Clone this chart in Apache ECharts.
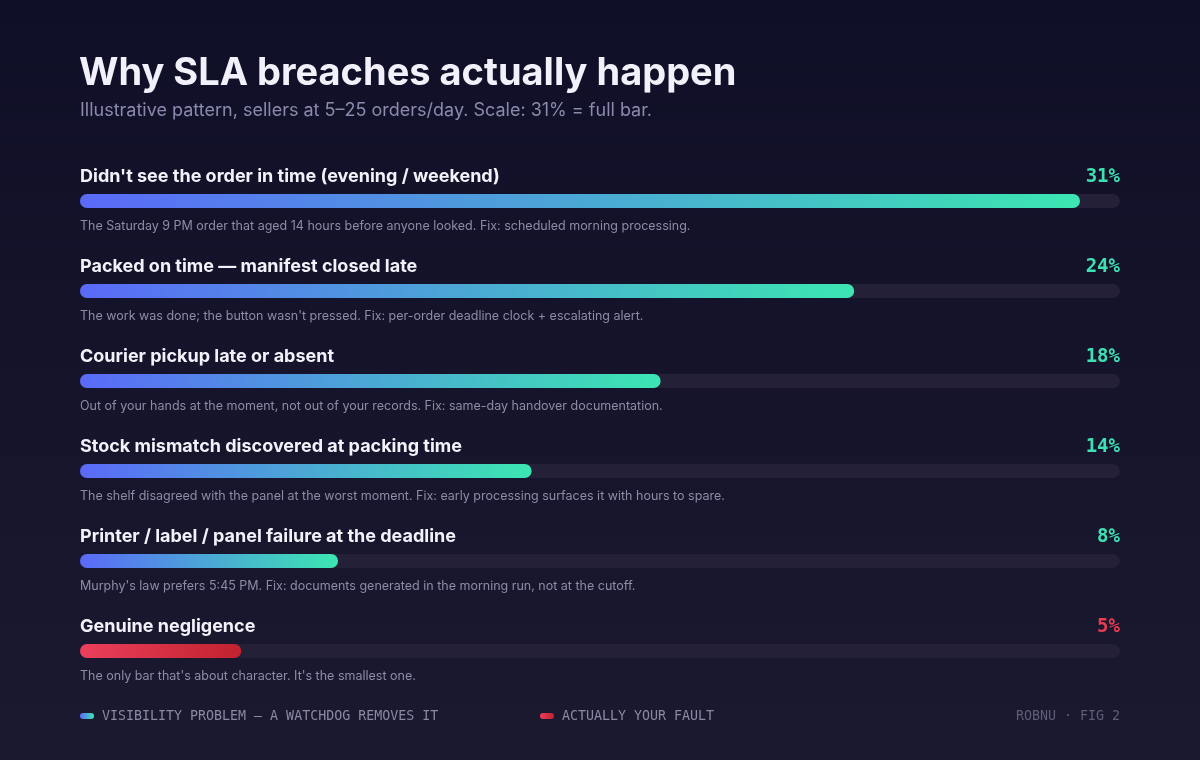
<!DOCTYPE html>
<html><head><meta charset="utf-8">
<script src="https://cdn.jsdelivr.net/npm/echarts@6/dist/echarts.min.js"></script>
<style>html,body{margin:0;padding:0;background:#141330;}#c{width:1200px;height:760px;}</style>
</head><body><div id="c"></div>
<script>
const categories = [
  "Didn't see the order in time (evening / weekend)",
  "Packed on time \u2014 manifest closed late",
  "Courier pickup late or absent",
  "Stock mismatch discovered at packing time",
  "Printer / label / panel failure at the deadline",
  "Genuine negligence"
];
const values = [31, 24, 18, 14, 8, 5];
const notes = [
  "The Saturday 9 PM order that aged 14 hours before anyone looked. Fix: scheduled morning processing.",
  "The work was done; the button wasn't pressed. Fix: per-order deadline clock + escalating alert.",
  "Out of your hands at the moment, not out of your records. Fix: same-day handover documentation.",
  "The shelf disagreed with the panel at the worst moment. Fix: early processing surfaces it with hours to spare.",
  "Murphy's law prefers 5:45 PM. Fix: documents generated in the morning run, not at the cutoff.",
  "The only bar that's about character. It's the smallest one."
];
const kinds = ["visibility", "visibility", "visibility", "visibility", "visibility", "fault"];
const fullScale = 31; // 31% = full bar
const legendLabels = ["VISIBILITY PROBLEM \u2014 A WATCHDOG REMOVES IT", "ACTUALLY YOUR FAULT"];
const titleText = "Why SLA breaches actually happen";
const subtitleText = "Illustrative pattern, sellers at 5\u201325 orders/day. Scale: 31% = full bar.";
const footText = "ROBNU \u00b7 FIG 2";

const chart = echarts.init(document.getElementById('c'), null, {renderer: 'canvas'});
const G = echarts.graphic;
const blueTeal = new G.LinearGradient(0, 0, 1, 0, [{offset: 0, color: '#5a6af8'}, {offset: 1, color: '#3ce6b2'}]);
const redGrad = new G.LinearGradient(0, 0, 1, 0, [{offset: 0, color: '#ec3f5c'}, {offset: 1, color: '#c0222e'}]);
const sans = 'Inter, "Noto Sans", sans-serif';
const mono = '"DejaVu Sans Mono", "Liberation Mono", monospace';

const option = {
  animation: false,
  backgroundColor: new G.LinearGradient(0, 0, 0, 1, [{offset: 0, color: '#0f0f27'}, {offset: 1, color: '#1b1930'}]),
  grid: {left: 80, right: 80, top: 156, height: 540},
  xAxis: {type: 'value', min: 0, max: fullScale * 1040 / 1000, show: false},
  yAxis: {type: 'category', data: categories, inverse: true, show: false},
  graphic: [
    {type: 'text', left: 79, top: 55, style: {text: titleText, font: '700 38px ' + sans, fill: '#f1f0fb'}},
    {type: 'text', left: 80, top: 102, style: {text: subtitleText, font: '400 18px ' + sans, fill: '#8c89ad'}},
    {type: 'rect', shape: {x: 80, y: 713, width: 14, height: 6, r: 3}, style: {fill: blueTeal}},
    {type: 'text', x: 102, y: 717, style: {text: legendLabels[0], font: '400 13.3px ' + mono, fill: '#8a88a3', verticalAlign: 'middle'}},
    {type: 'rect', shape: {x: 540, y: 713, width: 14, height: 6, r: 3}, style: {fill: redGrad}},
    {type: 'text', x: 562, y: 717, style: {text: legendLabels[1], font: '400 13.3px ' + mono, fill: '#8a88a3', verticalAlign: 'middle'}},
    {type: 'text', x: 1120, y: 717, style: {text: footText, font: '400 13.3px ' + mono, fill: '#5f5c79', align: 'right', verticalAlign: 'middle'}}
  ],
  series: [
    {
      type: 'bar',
      data: values.map((v, i) => ({value: v, itemStyle: {color: kinds[i] === 'fault' ? redGrad : blueTeal}})),
      barWidth: 14,
      itemStyle: {borderRadius: 7},
      showBackground: true,
      backgroundStyle: {color: '#232037', borderRadius: 7},
      silent: true
    },
    {
      type: 'custom',
      data: values.map((v, i) => [0, i]),
      encode: {x: 0, y: 1},
      silent: true,
      renderItem: function (params, api) {
        const i = params.dataIndex;
        const p = api.coord([0, i]);
        const right = params.coordSys.x + params.coordSys.width;
        const fault = kinds[i] === 'fault';
        return {
          type: 'group',
          children: [
            {type: 'text', x: p[0], y: p[1] - 24, style: {text: categories[i], font: '700 18px ' + sans, fill: '#f3f2fb', verticalAlign: 'middle'}},
            {type: 'text', x: p[0], y: p[1] + 25, style: {text: notes[i], font: '400 12.5px ' + sans, fill: '#8e8ba8', verticalAlign: 'middle'}},
            {type: 'text', x: right, y: p[1] - 24, style: {text: values[i] + '%', font: '700 19px ' + mono, fill: fault ? '#ea3b52' : '#3ee0b2', align: 'right', verticalAlign: 'middle'}}
          ]
        };
      }
    }
  ]
};
chart.setOption(option);
</script></body></html>
